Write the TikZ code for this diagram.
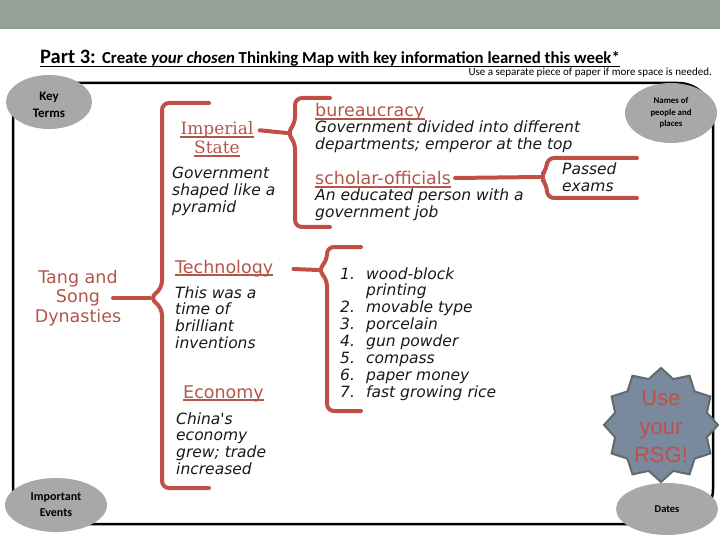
\documentclass[tikz,border=0pt]{standalone}
\usepackage{fontspec}
\setmainfont{DejaVu Sans}
\newfontfamily\calfont{Carlito}
\newfontfamily\verd{DejaVu Sans}
\newfontfamily\serf{DejaVu Serif}
\newfontfamily\arialf{Liberation Sans}
\usetikzlibrary{shapes.geometric}
\definecolor{band}{RGB}{147,161,151}
\definecolor{bubble}{RGB}{168,168,168}
\definecolor{bred}{RGB}{192,80,70}
\definecolor{tred}{RGB}{180,85,74}
\definecolor{starfill}{RGB}{122,138,158}
\definecolor{starline}{RGB}{96,108,108}
\definecolor{ink}{RGB}{25,25,25}
\tikzset{
  bubblenode/.style={ellipse, fill=bubble, inner sep=0, align=center, font=\calfont\bfseries},
  bracepath/.style={draw=bred, line width=4pt, rounded corners=7pt, line cap=round},
  linkline/.style={draw=bred, line width=4pt, line cap=round},
  headnode/.style={anchor=base west, inner sep=0, text=tred, font=\verd\fontsize{17.5}{19}\selectfont},
  bodynode/.style={anchor=base west, inner sep=0, text=ink, align=left, font=\verd\itshape\fontsize{15.5}{16.8}\selectfont},
  uline/.style={draw=tred, line width=1.2pt}
}
\begin{document}
\begin{tikzpicture}[x=1pt,y=-1pt]
\useasboundingbox (0,0) rectangle (720,540);
\fill[band] (0,0) rectangle (720,29);
% title
\node[anchor=base west, inner sep=0] (title) at (40,64)
  {\calfont\bfseries\fontsize{20.5}{22}\selectfont Part 3: \fontsize{16.8}{18}\selectfont Create \textit{your chosen} Thinking Map with key information learned this week*};
\draw[line width=1pt] ([yshift=-2.5pt]title.base west) -- ([yshift=-2.5pt]title.base east);
\node[anchor=base east, inner sep=0] (note) at (712,76)
  {\calfont\fontsize{11}{12}\selectfont Use a separate piece of paper if more space is needed.};
% frame
\draw[line width=2.5pt, rounded corners=35pt] (13,83) rectangle (713,524);
% bubbles
\node[bubblenode, minimum width=86pt, minimum height=54pt] (key) at (49,102) {};
\node[align=center, inner sep=0, font=\calfont\bfseries\fontsize{13}{17}\selectfont] (keytxt) at (49,105) {Key\\Terms};
\node[bubblenode, minimum width=92pt, minimum height=60pt, font=\calfont\bfseries\fontsize{8.8}{11.5}\selectfont] (names) at (671,113) {Names of\\people and\\places};
\node[bubblenode, minimum width=102pt, minimum height=54pt, font=\calfont\bfseries\fontsize{12}{16}\selectfont] (events) at (56,505) {Important\\Events};
\node[bubblenode, minimum width=102pt, minimum height=52pt, font=\calfont\bfseries\fontsize{10.5}{11}\selectfont] (dates) at (667,509) {Dates};
% star
\node[star, star points=12, star point ratio=1.2, minimum size=114pt, inner sep=0, fill=starfill, draw=starline, line width=2pt] (rsg) at (661,425) {};
\node[align=center, inner sep=0, text=bred, font=\arialf\fontsize{22}{28.5}\selectfont] (rsgtext) at (661,427) {Use\\your\\RSG!};
% root
\node[align=center, inner sep=0, text=tred, font=\verd\fontsize{17.5}{19.5}\selectfont] (tang) at (78,298) {Tang and\\Song\\Dynasties};
% brace 1
\coordinate (c1) at (150,298);
\draw[bracepath] (209,103) -- (162,103) -- (162,288) -- (c1) -- (162,308) -- (162,488) -- (209,488);
\draw[linkline] ([xshift=35pt]tang.center) -- (c1);
% imperial state
\node[anchor=base, inner sep=0, text=tred, font=\serf\fontsize{17}{19}\selectfont] (imp1) at (217,135) {Imperial};
\node[anchor=base, inner sep=0, text=tred, font=\serf\fontsize{17}{19}\selectfont] (imp2) at (217,154) {State};
\draw[uline] ([yshift=-2pt]imp1.base west) -- ([yshift=-2pt]imp1.base east);
\draw[uline] ([yshift=-2pt]imp2.base west) -- ([yshift=-2pt]imp2.base east);
\node[bodynode] (govt) at (172,212.6) {Government\\shaped like a\\pyramid};
% brace 2
\coordinate (c2) at (287,133);
\draw[bracepath] (330,98) -- (295,98) -- (295,124) -- (c2) -- (295,142) -- (295,227) -- (330,227);
\draw[linkline] ([xshift=6pt]imp1.east) -- (c2);
\node[headnode] (bur) at (315,117) {bureaucracy};
\draw[uline] ([yshift=-2pt]bur.base west) -- ([yshift=-2pt]bur.base east);
\node[bodynode] (burdesc) at (315,149.8) {Government divided into different\\departments; emperor at the top};
\node[headnode] (sch) at (315,185) {scholar-officials};
\draw[uline] ([yshift=-2pt]sch.base west) -- ([yshift=-2pt]sch.base east);
\node[bodynode] (schdesc) at (315,217.8) {An educated person with a\\government job};
% brace 3
\coordinate (c3) at (540,177);
\draw[bracepath] (637,158) -- (547,158) -- (547,169) -- (c3) -- (547,185) -- (547,198) -- (637,198);
\draw[linkline] ([xshift=4pt,yshift=7pt]sch.base east) -- (c3);
\node[bodynode] (passed) at (562,191.8) {Passed\\exams};
% technology
\node[headnode] (tech) at (175,273) {Technology};
\draw[uline] ([yshift=-2pt]tech.base west) -- ([yshift=-2pt]tech.base east);
\node[bodynode] (techdesc) at (175,348.4) {This was a\\time of\\brilliant\\inventions};
% brace 4
\coordinate (c4) at (318,270);
\draw[bracepath] (361,247) -- (327,247) -- (327,261) -- (c4) -- (327,279) -- (327,411) -- (361,411);
\draw[linkline] ([xshift=20pt,yshift=4pt]tech.base east) -- (c4);
\node[bodynode, font=\verd\itshape\fontsize{15.5}{16.9}\selectfont] (list) at (340,397.3) {%
\makebox[26pt][l]{1.}wood-block\\
\makebox[26pt][l]{}printing\\
\makebox[26pt][l]{2.}movable type\\
\makebox[26pt][l]{3.}porcelain\\
\makebox[26pt][l]{4.}gun powder\\
\makebox[26pt][l]{5.}compass\\
\makebox[26pt][l]{6.}paper money\\
\makebox[26pt][l]{7.}fast growing rice};
% economy
\node[headnode] (econ) at (183,398) {Economy};
\draw[uline] ([yshift=-2pt]econ.base west) -- ([yshift=-2pt]econ.base east);
\node[bodynode] (econdesc) at (176,474.4) {China's\\economy\\grew; trade\\increased};
\end{tikzpicture}
\end{document}
